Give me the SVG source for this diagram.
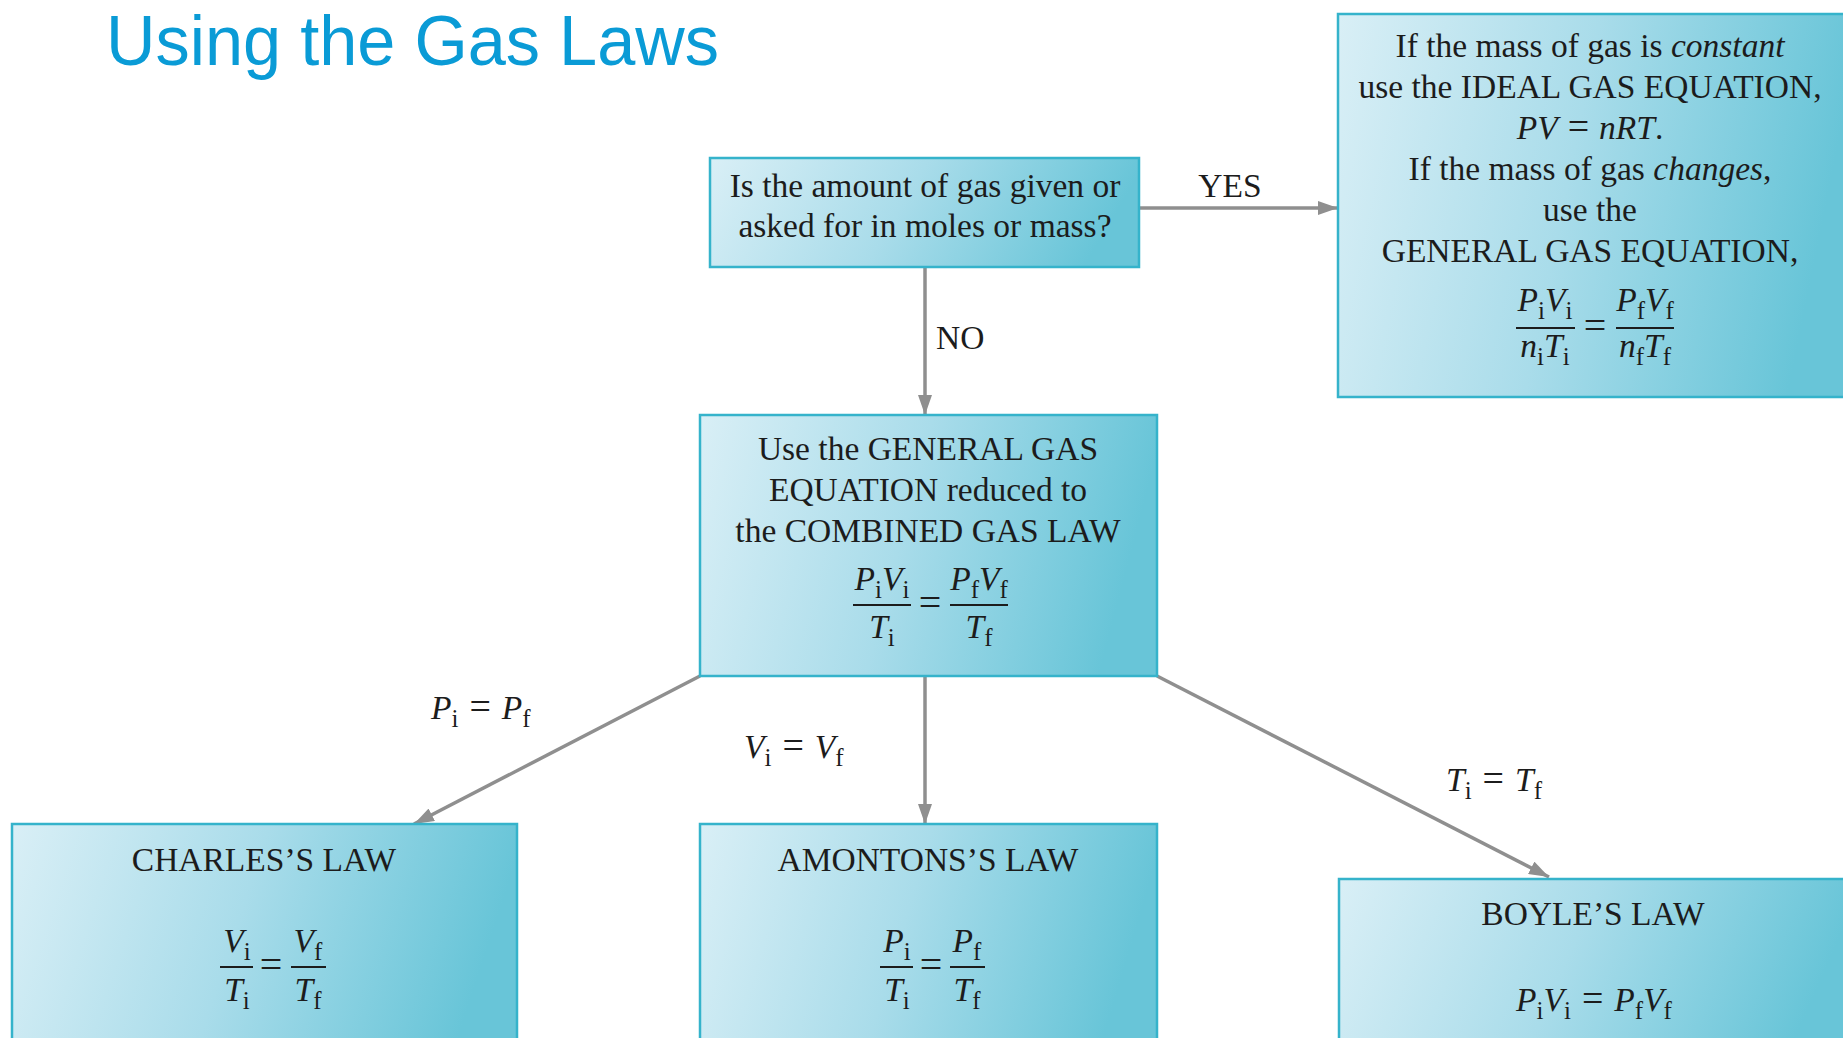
<svg xmlns="http://www.w3.org/2000/svg" width="1843" height="1038" viewBox="0 0 1843 1038">
<defs>
<linearGradient id="bg" x1="0" y1="0" x2="1" y2="0.15">
<stop offset="0" stop-color="#d9eff6"/>
<stop offset="0.5" stop-color="#a9dcea"/>
<stop offset="1" stop-color="#68c5d8"/>
</linearGradient>
<marker id="ah" viewBox="0 0 20 14" markerWidth="20" markerHeight="14" refX="20" refY="7" markerUnits="userSpaceOnUse" orient="auto">
<path d="M0,0 L20,7 L0,14 z" fill="#8f8f8f"/>
</marker>
<style>
.box{fill:url(#bg);stroke:#35b3cb;stroke-width:2.5}
.t{font-family:"Liberation Serif","Times New Roman",serif;font-size:33.5px;fill:#1c1c1c}
.c{text-anchor:middle}
.i{font-style:italic}
.s{font-size:25px;font-style:normal}
.eq{font-size:40px}
.le{font-size:38px}
.bar{stroke:#1c1c1c;stroke-width:1.8}
.conn{stroke:#8f8f8f;stroke-width:3.5;fill:none;marker-end:url(#ah)}
.title{font-family:"Liberation Sans",Arial,sans-serif;font-size:70px;fill:#0a9bd6}
</style>
</defs>
<rect width="1843" height="1038" fill="#ffffff"/>
<text class="title" x="106" y="65" textLength="613" lengthAdjust="spacingAndGlyphs">Using the Gas Laws</text>

<g id="connectors">
<line class="conn" x1="1139" y1="208" x2="1338" y2="208"/>
<line class="conn" x1="925" y1="267" x2="925" y2="415"/>
<line class="conn" x1="700" y1="676" x2="414" y2="824"/>
<line class="conn" x1="925" y1="676" x2="925" y2="824"/>
<line class="conn" x1="1157" y1="676" x2="1549" y2="877"/>
<text class="t c" x="1230" y="197">YES</text>
<text class="t" x="936" y="349">NO</text>
<text class="t" x="431" y="719"><tspan class="i">P</tspan><tspan class="s" dy="8">i</tspan><tspan class="le" dy="-8" dx="11">=</tspan><tspan class="i" dx="11">P</tspan><tspan class="s" dy="8">f</tspan></text>
<text class="t" x="744" y="758"><tspan class="i">V</tspan><tspan class="s" dy="8">i</tspan><tspan class="le" dy="-8" dx="11">=</tspan><tspan class="i" dx="11">V</tspan><tspan class="s" dy="8">f</tspan></text>
<text class="t" x="1446" y="791"><tspan class="i">T</tspan><tspan class="s" dy="8">i</tspan><tspan class="le" dy="-8" dx="11">=</tspan><tspan class="i" dx="11">T</tspan><tspan class="s" dy="8">f</tspan></text>
</g>

<g id="question">
<rect class="box" x="710" y="158" width="429" height="109"/>
<text class="t c" x="925" y="197">Is the amount of gas given or</text>
<text class="t c" x="925" y="237">asked for in moles or mass?</text>
</g>

<g id="ideal">
<rect class="box" x="1338" y="14" width="515" height="383"/>
<text class="t c" x="1590" y="57">If the mass of gas is <tspan class="i">constant</tspan></text>
<text class="t c" x="1590" y="98">use the IDEAL GAS EQUATION,</text>
<text class="t c" x="1590" y="139"><tspan class="i">PV</tspan><tspan class="le" dx="10">=</tspan><tspan class="i" dx="10">nRT</tspan>.</text>
<text class="t c" x="1590" y="180">If the mass of gas <tspan class="i">changes</tspan>,</text>
<text class="t c" x="1590" y="221">use the</text>
<text class="t c" x="1590" y="262">GENERAL GAS EQUATION,</text>
<text class="t c" x="1545" y="311"><tspan class="i">P</tspan><tspan class="s" dy="8">i</tspan><tspan class="i" dy="-8">V</tspan><tspan class="s" dy="8">i</tspan></text>
<line class="bar" x1="1516" y1="328" x2="1575" y2="328"/>
<text class="t c" x="1545" y="357"><tspan class="i">n</tspan><tspan class="s" dy="8">i</tspan><tspan class="i" dy="-8">T</tspan><tspan class="s" dy="8">i</tspan></text>
<text class="t c eq" x="1595" y="339">=</text>
<text class="t c" x="1645" y="311"><tspan class="i">P</tspan><tspan class="s" dy="8">f</tspan><tspan class="i" dy="-8">V</tspan><tspan class="s" dy="8">f</tspan></text>
<line class="bar" x1="1616" y1="328" x2="1674" y2="328"/>
<text class="t c" x="1645" y="357"><tspan class="i">n</tspan><tspan class="s" dy="8">f</tspan><tspan class="i" dy="-8">T</tspan><tspan class="s" dy="8">f</tspan></text>
</g>

<g id="combined">
<rect class="box" x="700" y="415" width="457" height="261"/>
<text class="t c" x="928" y="460">Use the GENERAL GAS</text>
<text class="t c" x="928" y="501">EQUATION reduced to</text>
<text class="t c" x="928" y="542">the COMBINED GAS LAW</text>
<text class="t c" x="882" y="590"><tspan class="i">P</tspan><tspan class="s" dy="8">i</tspan><tspan class="i" dy="-8">V</tspan><tspan class="s" dy="8">i</tspan></text>
<line class="bar" x1="853" y1="605" x2="911" y2="605"/>
<text class="t c" x="882" y="638"><tspan class="i">T</tspan><tspan class="s" dy="8">i</tspan></text>
<text class="t c eq" x="930" y="616">=</text>
<text class="t c" x="979" y="590"><tspan class="i">P</tspan><tspan class="s" dy="8">f</tspan><tspan class="i" dy="-8">V</tspan><tspan class="s" dy="8">f</tspan></text>
<line class="bar" x1="950" y1="605" x2="1008" y2="605"/>
<text class="t c" x="979" y="638"><tspan class="i">T</tspan><tspan class="s" dy="8">f</tspan></text>
</g>

<g id="charles">
<rect class="box" x="12" y="824" width="505" height="230"/>
<text class="t c" x="264" y="871">CHARLES’S LAW</text>
<text class="t c" x="237" y="952"><tspan class="i">V</tspan><tspan class="s" dy="8">i</tspan></text>
<line class="bar" x1="220" y1="967" x2="253" y2="967"/>
<text class="t c" x="237" y="1001"><tspan class="i">T</tspan><tspan class="s" dy="8">i</tspan></text>
<text class="t c eq" x="271" y="978">=</text>
<text class="t c" x="308" y="952"><tspan class="i">V</tspan><tspan class="s" dy="8">f</tspan></text>
<line class="bar" x1="291" y1="967" x2="326" y2="967"/>
<text class="t c" x="308" y="1001"><tspan class="i">T</tspan><tspan class="s" dy="8">f</tspan></text>
</g>

<g id="amontons">
<rect class="box" x="700" y="824" width="457" height="230"/>
<text class="t c" x="928" y="871">AMONTONS’S LAW</text>
<text class="t c" x="897" y="952"><tspan class="i">P</tspan><tspan class="s" dy="8">i</tspan></text>
<line class="bar" x1="880" y1="967" x2="913" y2="967"/>
<text class="t c" x="897" y="1001"><tspan class="i">T</tspan><tspan class="s" dy="8">i</tspan></text>
<text class="t c eq" x="931" y="978">=</text>
<text class="t c" x="967" y="952"><tspan class="i">P</tspan><tspan class="s" dy="8">f</tspan></text>
<line class="bar" x1="950" y1="967" x2="985" y2="967"/>
<text class="t c" x="967" y="1001"><tspan class="i">T</tspan><tspan class="s" dy="8">f</tspan></text>
</g>

<g id="boyle">
<rect class="box" x="1339" y="879" width="515" height="175"/>
<text class="t c" x="1593" y="925">BOYLE’S LAW</text>
<text class="t c" x="1594" y="1011"><tspan class="i">P</tspan><tspan class="s" dy="8">i</tspan><tspan class="i" dy="-8">V</tspan><tspan class="s" dy="8">i</tspan><tspan class="le" dy="-8" dx="11">=</tspan><tspan class="i" dx="11">P</tspan><tspan class="s" dy="8">f</tspan><tspan class="i" dy="-8">V</tspan><tspan class="s" dy="8">f</tspan></text>
</g>
</svg>
